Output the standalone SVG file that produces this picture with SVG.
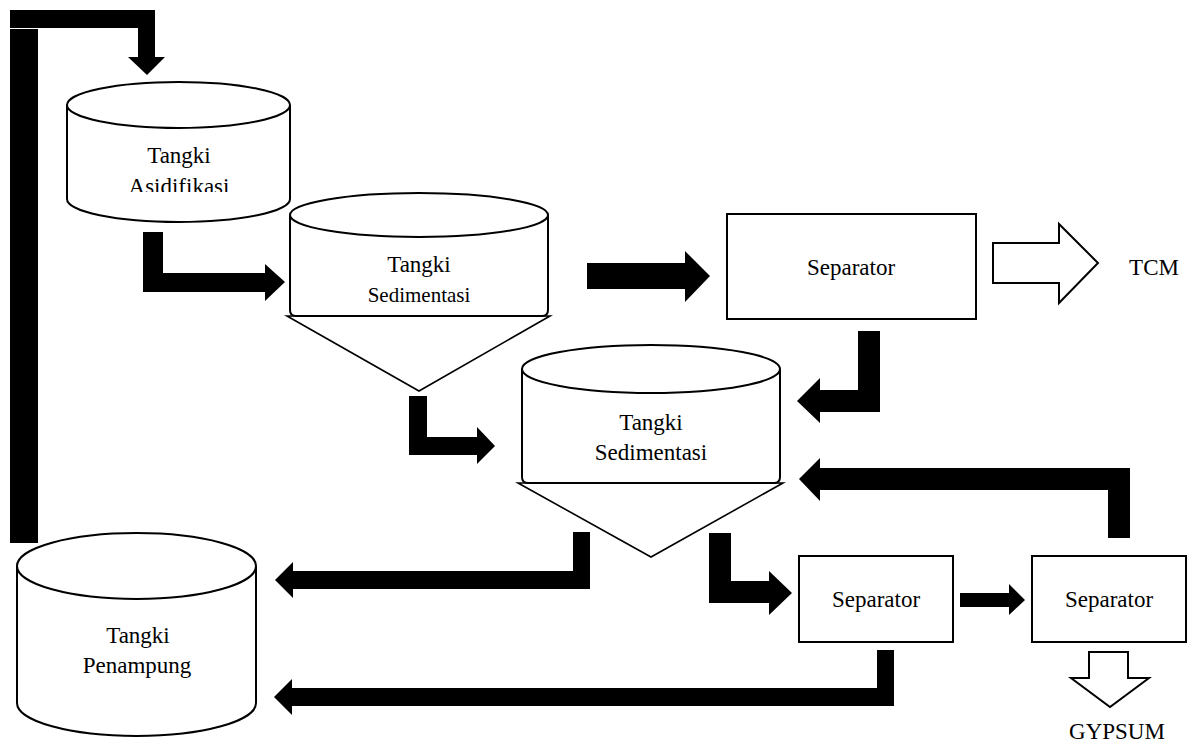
<svg xmlns="http://www.w3.org/2000/svg" width="1193" height="745" viewBox="0 0 1193 745">
<style>
.shape{fill:#fff;stroke:#000;stroke-width:2}
.thin{fill:#fff;stroke:#000;stroke-width:1.6;stroke-linejoin:miter}
.flow{fill:#000;stroke:none}
.hollow{fill:#fff;stroke:#000;stroke-width:2;stroke-linejoin:miter}
.lbl{font-size:23px;fill:#000;text-anchor:middle}
</style>
<defs>
<clipPath id="clipA"><rect x="60" y="130" width="240" height="62"/></clipPath>
</defs>
<rect width="1193" height="745" fill="#fff"/>

<g id="connectors">
<polygon class="flow" points="10,10 155,10 155,57 165,57 147,75 128,57 138,57 138,28 10,28"/>
<rect class="flow" x="10" y="29" width="28" height="514"/>
<polygon class="flow" points="143,232 163,232 163,273 265,273 265,264 285,282 265,301 265,292 143,292"/>
<polygon class="flow" points="587,263 685,263 685,251 710,276 685,302 685,289 587,289"/>
<polygon class="flow" points="858,331 880,331 880,412 820,412 820,423 797,401 820,378 820,390 858,390"/>
<polygon class="flow" points="409,396 427,396 427,437 477,437 477,427 495,446 477,464 477,455 409,455"/>
<polygon class="flow" points="1108,538 1130,538 1130,468 820,468 820,458 799,479 820,501 820,490 1108,490"/>
<polygon class="flow" points="573,532 590,532 590,589 293,589 293,598 275,580 293,562 293,571 573,571"/>
<polygon class="flow" points="709,533 731,533 731,581 769,581 769,571 792,593 769,615 769,603 709,603"/>
<polygon class="flow" points="877,650 894,650 894,706 292,706 292,715 274,697 292,679 292,688 877,688"/>
<polygon class="flow" points="960,593 1009,593 1009,584 1025,600 1009,615 1009,607 960,607"/>
<polygon class="hollow" points="993,243 1059,243 1059,224 1098,263 1059,303 1059,283 993,283"/>
<polygon class="hollow" points="1089,652 1128,652 1128,678 1149,678 1110,707 1071,678 1089,678"/>
</g>

<g font-family="'Liberation Serif', 'Times New Roman', Times, serif">
<g id="tangki-asidifikasi">
<path class="shape" d="M67,105 V199 A111.5,23 0 0 0 290,199 V105"/>
<ellipse class="shape" cx="178.5" cy="105" rx="111.5" ry="23"/>
<text class="lbl" x="179" y="163">Tangki</text>
<text class="lbl" x="179" y="194" clip-path="url(#clipA)">Asidifikasi</text>
</g>

<g id="tangki-sedimentasi-1">
<polygon class="thin" points="287,316 550,316 419,391"/>
<path class="shape" d="M290,215 V310 Q290,316 296,316 H542 Q548,316 548,310 V215"/>
<ellipse class="shape" cx="419" cy="215" rx="129" ry="22"/>
<text class="lbl" x="419" y="272">Tangki</text>
<text class="lbl" x="419" y="302" style="font-size:21px">Sedimentasi</text>
</g>

<g id="separator-1">
<rect class="shape" x="727" y="214" width="249" height="105"/>
<text class="lbl" x="851" y="275">Separator</text>
</g>
<text class="lbl" x="1154" y="275">TCM</text>

<g id="tangki-sedimentasi-2">
<polygon class="thin" points="518,483 783,483 651,557"/>
<path class="shape" d="M522,369 V477 Q522,483 528,483 H774 Q780,483 780,477 V369"/>
<ellipse class="shape" cx="651" cy="369" rx="129" ry="24"/>
<text class="lbl" x="651" y="430">Tangki</text>
<text class="lbl" x="651" y="460">Sedimentasi</text>
</g>

<g id="tangki-penampung">
<path class="shape" d="M17,566 V703 A119.5,33 0 0 0 256,703 V566"/>
<ellipse class="shape" cx="136.5" cy="566" rx="119.5" ry="33"/>
<text class="lbl" x="138" y="643">Tangki</text>
<text class="lbl" x="137" y="673">Penampung</text>
</g>

<g id="separator-2">
<rect class="shape" x="799" y="556" width="154" height="86"/>
<text class="lbl" x="876" y="607">Separator</text>
</g>

<g id="separator-3">
<rect class="shape" x="1032" y="556" width="154" height="86"/>
<text class="lbl" x="1109" y="607">Separator</text>
</g>
<text class="lbl" x="1117" y="739">GYPSUM</text>
</g>
</svg>
